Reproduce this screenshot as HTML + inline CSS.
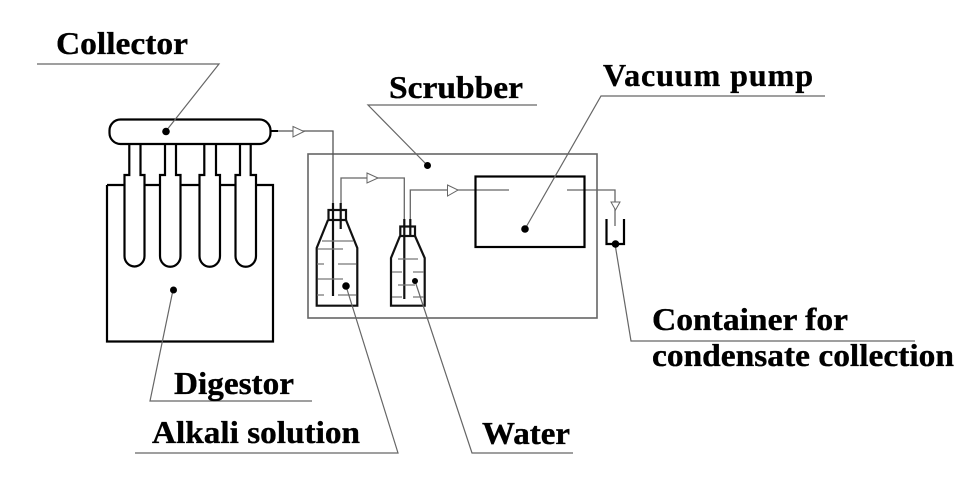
<!DOCTYPE html>
<html><head><meta charset="utf-8"><style>
html,body{margin:0;padding:0;background:#fff;width:960px;height:480px;overflow:hidden}
svg{display:block}
text{font-family:"Liberation Serif",serif;font-weight:bold;font-size:32px;fill:#000;stroke:#000;stroke-width:.35px}
</style></head><body>
<svg width="960" height="480" viewBox="0 0 960 480" xmlns="http://www.w3.org/2000/svg">
<rect width="960" height="480" fill="#fff"/>
<!-- scrubber frame and pipes -->
<g fill="none" stroke="#666" stroke-width="1.3">
<rect x="308" y="154" width="289" height="164" stroke-width="1.6"/>
<path d="M272 131H333V204" stroke="#555"/>
<path d="M341 204V178H404.300V219"/>
<path d="M410.300 219V190H509"/>
<path d="M567 190H615V226"/>
</g>
<path d="M270 131H278" stroke="#000" stroke-width="2"/>
<!-- arrowheads -->
<g fill="#fff" stroke="#666" stroke-width="1">
<path d="M293 126.500L304 131.500L293 137Z"/>
<path d="M367 173L378 178L367 183Z"/>
<path d="M447.500 185L458 190L447.500 196Z"/>
<path d="M611 202H620L615.500 210Z"/>
</g>
<!-- collector and digestor -->
<g fill="none" stroke="#000" stroke-width="2.2">
<rect x="109.500" y="119.500" width="161" height="24.500" rx="11" fill="#fff"/>
<path d="M107 185V341.500H273V185H256M235 185H220M199 185H181M160 185H145M124 185H107"/>
<path d="M129.300 144V175H124.500V256A10 10.500 0 0 0 144.500 256V175H140.500V144"/>
<path d="M165 144V175H160V256A10 10.500 0 0 0 180.500 256V175H176V144"/>
<path d="M204.300 144V175H199.500V256A10 10.500 0 0 0 220 256V175H216V144"/>
<path d="M240 144V175H235.500V256A10 10.500 0 0 0 256 256V175H250.700V144"/>
</g>
<!-- pump and container -->
<rect x="475.500" y="176.500" width="109" height="70.500" fill="none" stroke="#000" stroke-width="2.2"/>
<path d="M606.500 219V244H624V219" fill="none" stroke="#000" stroke-width="2.2"/>
<!-- bottle 1 -->
<g fill="none" stroke="#111" stroke-width="2.2">
<path d="M328 220L316.700 248V305.700H357.300V248L346 220"/>
<rect x="328.500" y="210" width="17.500" height="10"/>
<path d="M333 203V296M340.700 203V229"/>
</g>
<g stroke="#777" stroke-width="1.2">
<path d="M322 241H353M318 249H343M317 264H324M338 264H356M318 279H343M317 295H324M338 295H356"/>
</g>
<!-- bottle 2 -->
<g fill="none" stroke="#111" stroke-width="2.2">
<path d="M400 236L391 258V305.700H424.700V258L415 236"/>
<rect x="400.300" y="226.500" width="14.700" height="9.500"/>
<path d="M404.300 219V299M410.300 219V236"/>
</g>
<g stroke="#777" stroke-width="1.2">
<path d="M398 259H418M392 272H402M413 272H424M398 285H415M392 297H402M413 297H424"/>
</g>
<!-- leader lines -->
<g fill="none" stroke="#666" stroke-width="1.2">
<path d="M37 64H219L166 131"/>
<path d="M537 105H368L427 165"/>
<path d="M825 96H601L525 229"/>
<path d="M173 290L150 401H312"/>
<path d="M346 286L398 453H135"/>
<path d="M415 281L472 453H573"/>
<path d="M615 244L631 341H915"/>
</g>
<!-- dots -->
<g fill="#000">
<circle cx="166" cy="131.500" r="3.800"/>
<circle cx="427.500" cy="165.500" r="3.500"/>
<circle cx="525" cy="229" r="3.800"/>
<circle cx="173.500" cy="290" r="3.500"/>
<circle cx="346" cy="286" r="3.800"/>
<circle cx="415" cy="281" r="3"/>
<circle cx="615.500" cy="244" r="3.800"/>
</g>
<!-- labels -->
<text x="56" y="54" textLength="132" lengthAdjust="spacingAndGlyphs">Collector</text>
<text x="389" y="98" textLength="134" lengthAdjust="spacingAndGlyphs">Scrubber</text>
<text x="603" y="86" textLength="210" lengthAdjust="spacing">Vacuum pump</text>
<text x="174" y="394" textLength="120" lengthAdjust="spacingAndGlyphs">Digestor</text>
<text x="152" y="443" textLength="208" lengthAdjust="spacingAndGlyphs">Alkali solution</text>
<text x="482" y="444" textLength="88" lengthAdjust="spacingAndGlyphs">Water</text>
<text x="652" y="330" textLength="196" lengthAdjust="spacingAndGlyphs">Container for</text>
<text x="652" y="366" textLength="302" lengthAdjust="spacingAndGlyphs">condensate collection</text>
</svg>
</body></html>
